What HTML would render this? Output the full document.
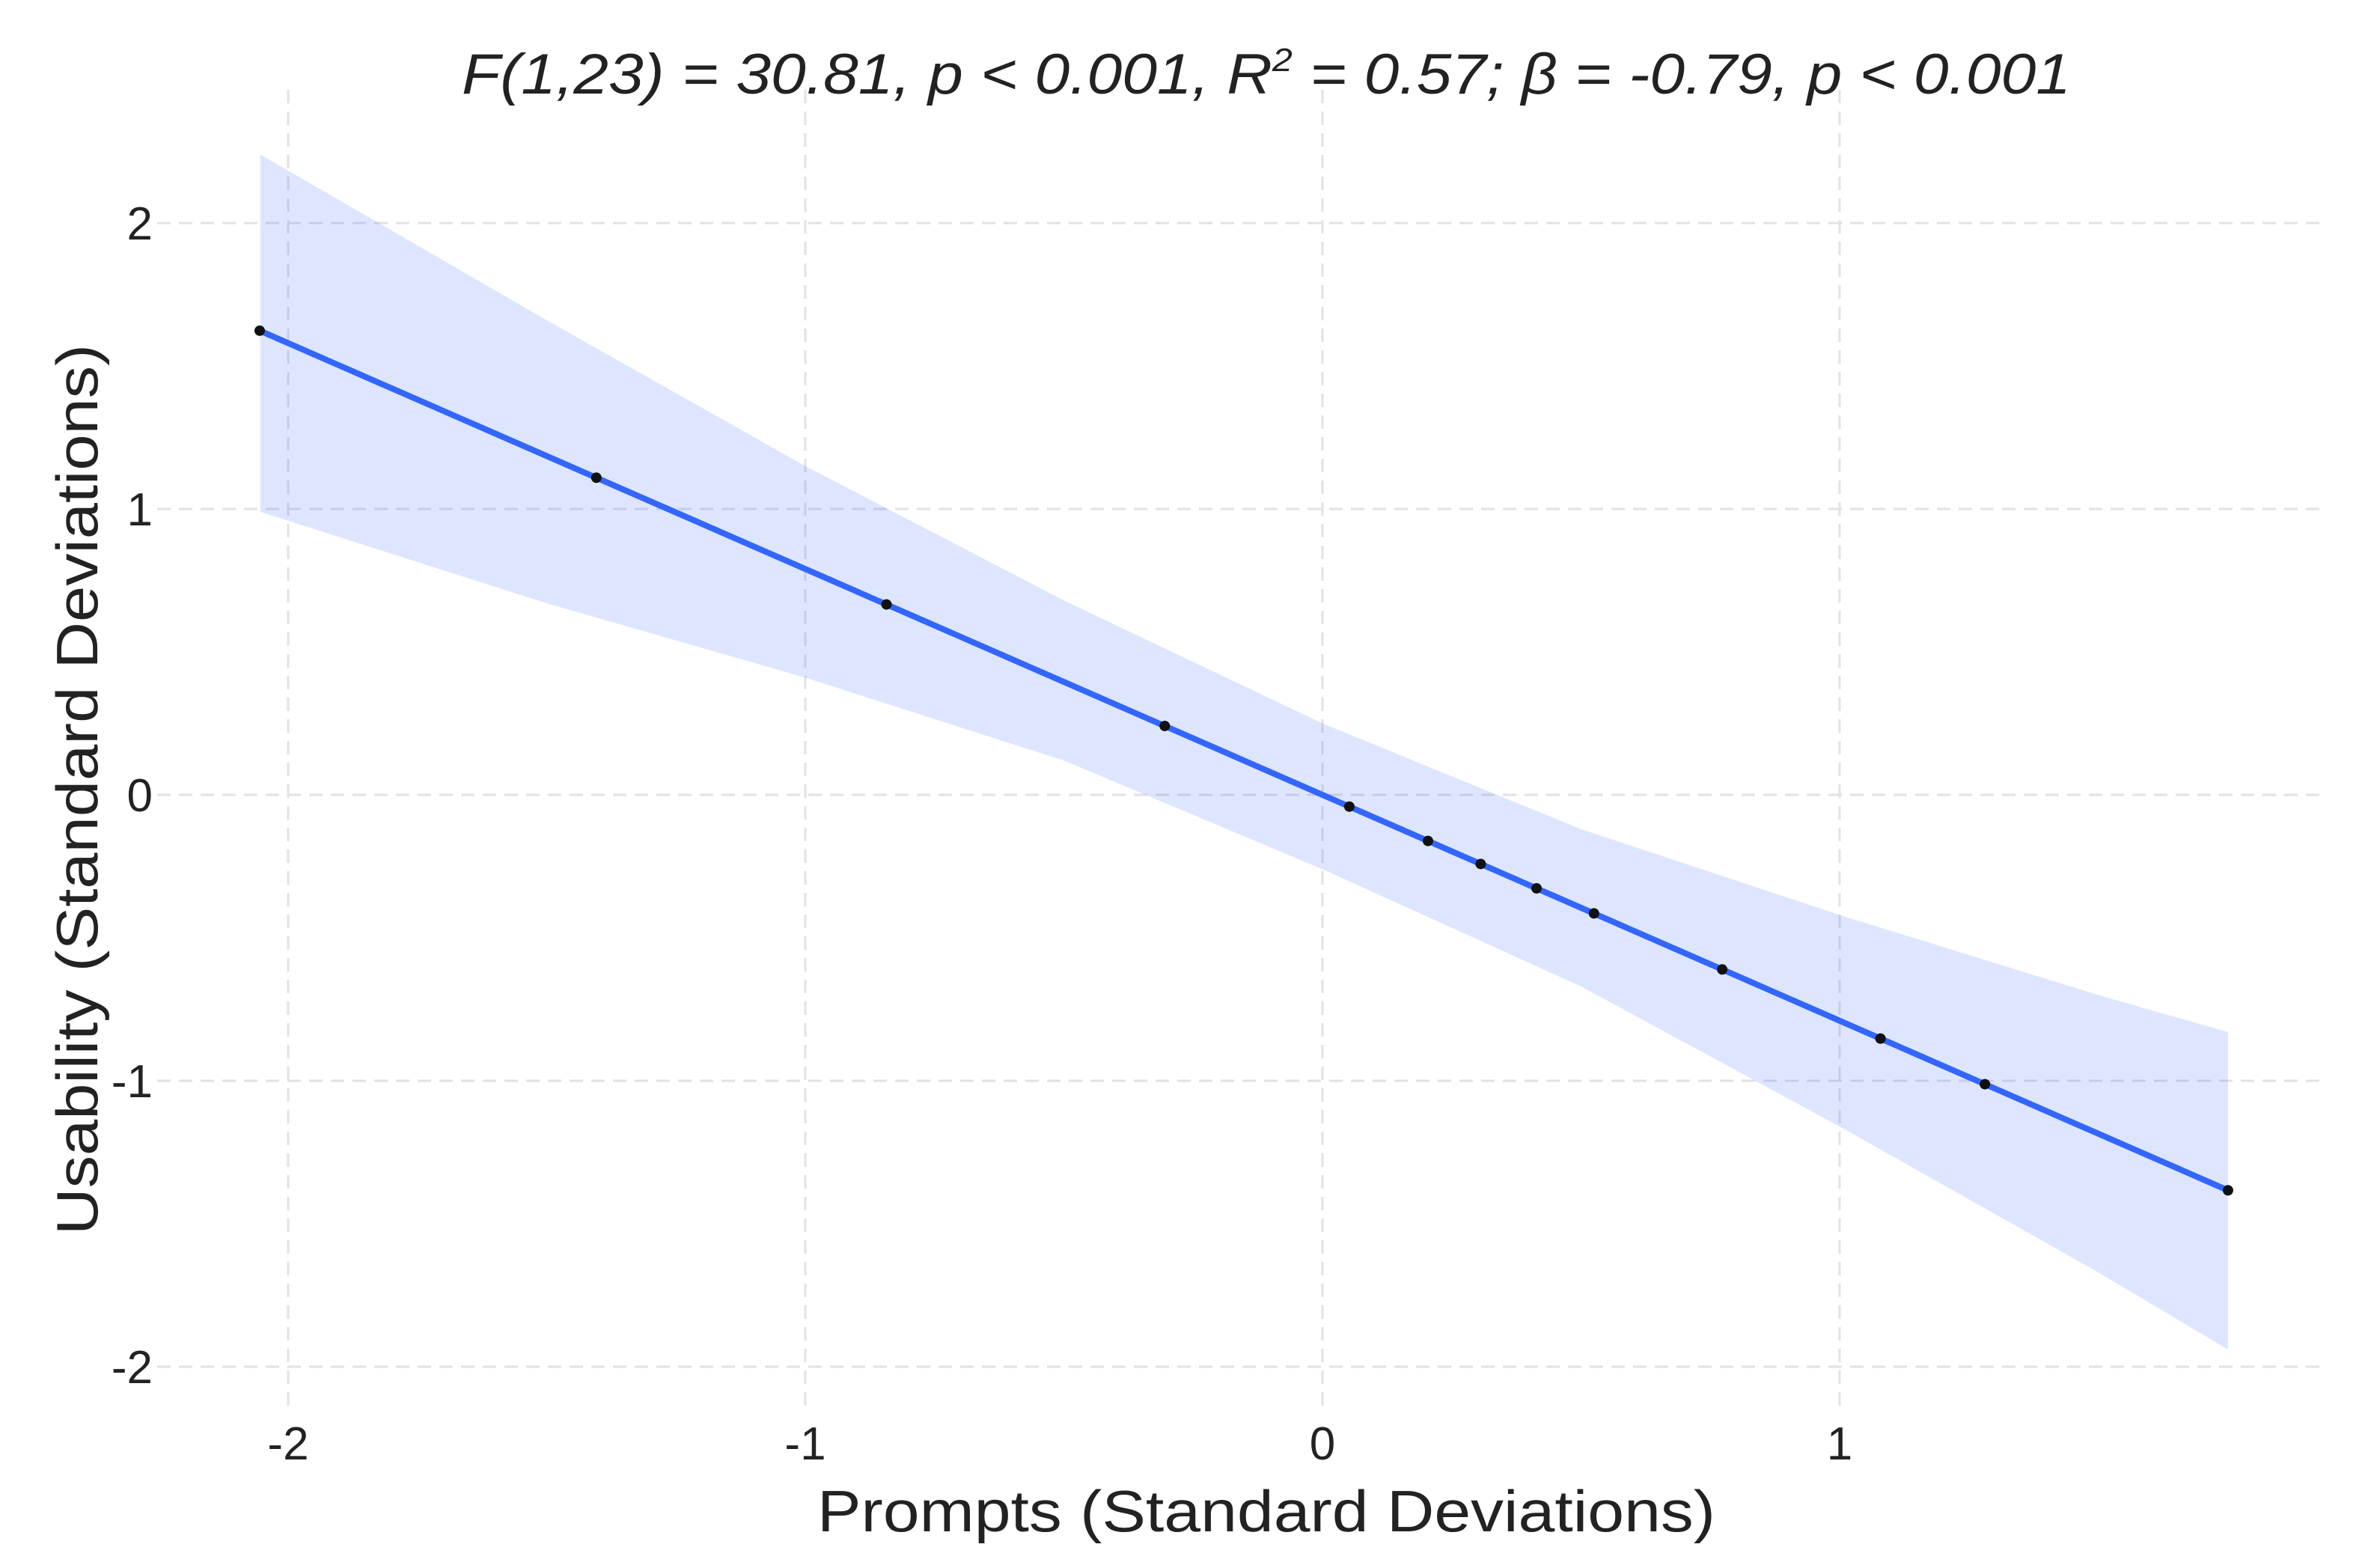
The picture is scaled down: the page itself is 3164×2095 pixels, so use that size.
<!DOCTYPE html>
<html><head><meta charset="utf-8"><style>
html,body{margin:0;padding:0;background:#fff;}
svg{display:block;font-family:"Liberation Sans",sans-serif;}
</style></head><body>
<svg id="chart" width="3164" height="2095" viewBox="0 0 3164 2095" xmlns="http://www.w3.org/2000/svg">
<g id="grid"></g>
<g id="band"></g>
<g id="line"></g>
<g id="points"></g>
<g id="ticks"></g>
<text x="1692" y="125" text-anchor="middle" font-size="76" font-style="italic" fill="#222" textLength="2150" lengthAdjust="spacingAndGlyphs">F(1,23) = 30.81, p &lt; 0.001, R<tspan font-size="44" dy="-30">2</tspan><tspan dy="30"> = 0.57; β = -0.79, p &lt; 0.001</tspan></text>
<text x="1692" y="2046" text-anchor="middle" font-size="78" fill="#222" textLength="1200" lengthAdjust="spacingAndGlyphs">Prompts (Standard Deviations)</text>
<text transform="translate(130,1055) rotate(-90)" text-anchor="middle" font-size="78" fill="#222" textLength="1190" lengthAdjust="spacingAndGlyphs">Usability (Standard Deviations)</text>
</svg>
<script>
const xTicks = [-2, -1, 0, 1];
const yTicks = [-2, -1, 0, 1, 2];
const pointX = [-2.055, -1.404, -0.843, -0.305, 0.052, 0.204, 0.306, 0.414, 0.525, 0.773, 1.079, 1.281, 1.751];
const slope = -0.79;
const intercept = 0.0;
const bandX = [-2.054, -1.5, -1, -0.5, 0, 0.5, 1, 1.5, 1.751];
const bandUpper = [2.24, 1.66, 1.15, 0.68, 0.25, -0.12, -0.42, -0.70, -0.83];
const bandLower = [0.99, 0.67, 0.41, 0.12, -0.26, -0.67, -1.16, -1.67, -1.94];

const NS = "http://www.w3.org/2000/svg";
const X0 = 1767, XS = 691, Y0 = 1062, YS = 382;
const sx = v => X0 + v * XS;
const sy = v => Y0 - v * YS;
function mk(tag, attrs, parent) {
  const e = document.createElementNS(NS, tag);
  for (const k in attrs) e.setAttribute(k, attrs[k]);
  parent.appendChild(e);
  return e;
}
const grid = document.getElementById('grid');
xTicks.forEach(t => {
  const l = mk('line', {x1: sx(t), x2: sx(t), y1: 120, y2: 1880, stroke: '#e2e2e2', 'stroke-width': 3, 'stroke-dasharray': '18 11'}, grid);
  
  
});
yTicks.forEach(t => {
  const l = mk('line', {x1: 210, x2: 3100, y1: sy(t), y2: sy(t), stroke: '#e2e2e2', 'stroke-width': 3, 'stroke-dasharray': '18 11'}, grid);
  
  
});
const band = document.getElementById('band');
let d = bandX.map((x, i) => (i ? 'L' : 'M') + sx(x) + ',' + sy(bandUpper[i])).join(' ');
for (let i = bandX.length - 1; i >= 0; i--) d += ' L' + sx(bandX[i]) + ',' + sy(bandLower[i]);
const bp = mk('path', {d: d + ' Z', fill: 'rgba(51,102,255,0.16)'}, band);


const lineG = document.getElementById('line');
const xmin = Math.min(...pointX), xmax = Math.max(...pointX);
const ln = mk('line', {x1: sx(xmin), y1: sy(intercept + slope * xmin), x2: sx(xmax), y2: sy(intercept + slope * xmax), stroke: '#3366ff', 'stroke-width': 8}, lineG);


const pts = document.getElementById('points');
pointX.forEach(x => {
  const c = mk('circle', {cx: sx(x), cy: sy(intercept + slope * x), r: 7, fill: '#111'}, pts);
  
  
});
const ticks = document.getElementById('ticks');
xTicks.forEach(t => {
  const e = mk('text', {x: sx(t), y: 1950, 'text-anchor': 'middle', 'font-size': 62, fill: '#222'}, ticks);
  e.textContent = String(t);
  
  
});
yTicks.forEach(t => {
  const e = mk('text', {x: 204, y: sy(t) + 22, 'text-anchor': 'end', 'font-size': 62, fill: '#222'}, ticks);
  e.textContent = String(t);
  
  
});
</script>
</body></html>
